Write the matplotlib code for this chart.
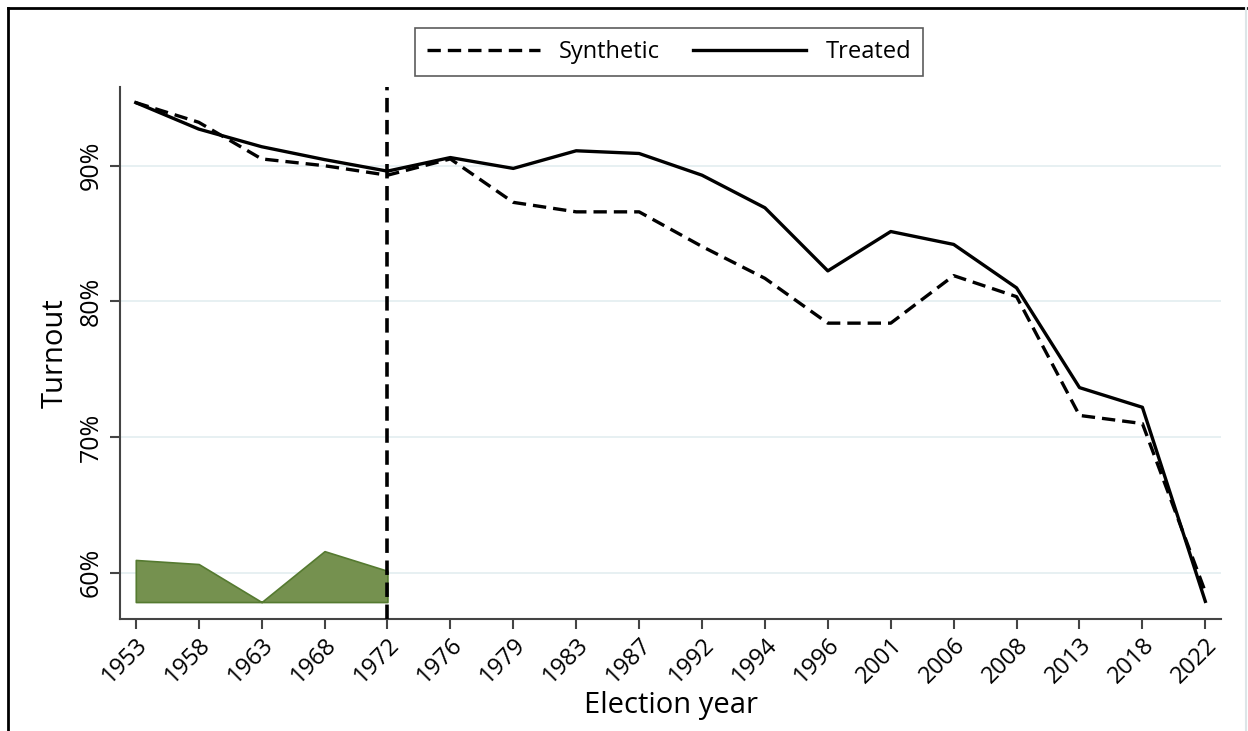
import matplotlib.pyplot as plt
from matplotlib.lines import Line2D
from matplotlib.ticker import FuncFormatter

plt.rcParams['font.family'] = ['Open Sans', 'DejaVu Sans']

years = ["1953", "1958", "1963", "1968", "1972", "1976", "1979", "1983", "1987",
         "1992", "1994", "1996", "2001", "2006", "2008", "2013", "2018", "2022"]
treated = [94.65, 92.7, 91.4, 90.45, 89.6, 90.6, 89.8, 91.1, 90.9,
           89.3, 86.9, 82.25, 85.15, 84.2, 81.0, 73.65, 72.2, 57.9]
synthetic = [94.65, 93.2, 90.5, 90.0, 89.3, 90.5, 87.3, 86.6, 86.6,
             84.05, 81.7, 78.4, 78.4, 81.9, 80.35, 71.6, 71.0, 58.6]
# pre-treatment fit band (drawn at the bottom)
band_base = 57.85
band_top = [60.95, 60.65, 57.85, 61.6, 60.15]
treat_idx = 4

x = list(range(len(years)))
dash = (0, (4, 2.1))

fig = plt.figure(figsize=(12.48, 7.31), dpi=100)
ax = fig.add_axes([0.0962, 0.1532, 0.8822, 0.7278])

ax.set_xlim(-0.25, len(years) - 0.75)
ax.set_ylim(56.6, 95.8)

for yv in [60, 70, 80, 90]:
    ax.axhline(yv, color='#e3eef0', lw=1.2, zorder=0)

ax.fill_between(x[:treat_idx + 1], band_base, band_top, facecolor='#75914f',
                edgecolor='#557a30', lw=1.2, zorder=2)

ax.plot(x, synthetic, color='black', lw=2.4, ls=dash, label='Synthetic', zorder=3)
ax.plot(x, treated, color='black', lw=2.4, label='Treated', zorder=3)
ax.axvline(treat_idx, color='black', lw=2.6, ls=dash, zorder=4)

ax.set_xticks(x)
ax.set_xticklabels(years, rotation=45, ha='right', rotation_mode='anchor', fontsize=17)
ax.set_yticks([60, 70, 80, 90])
ax.yaxis.set_major_formatter(FuncFormatter(lambda v, p: f"{v:.0f}%"))
for lab in ax.get_yticklabels():
    lab.set_rotation(90)
    lab.set_va('center')
    lab.set_fontsize(18)

ax.tick_params(axis='both', length=7, width=1.5, color='#444444')
ax.tick_params(axis='x', pad=3)
ax.tick_params(axis='y', pad=5)
for s in ['top', 'right']:
    ax.spines[s].set_visible(False)
for s in ['left', 'bottom']:
    ax.spines[s].set_color('#444444')
    ax.spines[s].set_linewidth(1.5)

ax.set_xlabel('Election year', fontsize=21, labelpad=2)
ax.set_ylabel('Turnout', fontsize=21, labelpad=6)

leg = fig.legend(loc='center', bbox_to_anchor=(0.536, 0.929), ncol=2, fontsize=17,
                 frameon=True, fancybox=False, edgecolor='#333333', handlelength=4.8,
                 columnspacing=1.4, handletextpad=0.8, borderpad=0.5)
leg.get_frame().set_linewidth(1.2)

# outer frame of the graph region
fig.add_artist(Line2D([0.0064, 0.0064], [0, 0.989], transform=fig.transFigure, color='black', lw=2))
fig.add_artist(Line2D([0.0064, 0.998], [0.989, 0.989], transform=fig.transFigure, color='black', lw=2))
fig.add_artist(Line2D([0.998, 0.998], [0, 0.989], transform=fig.transFigure, color='#dde6e8', lw=1.5))

fig.savefig('out.png', dpi=100)
